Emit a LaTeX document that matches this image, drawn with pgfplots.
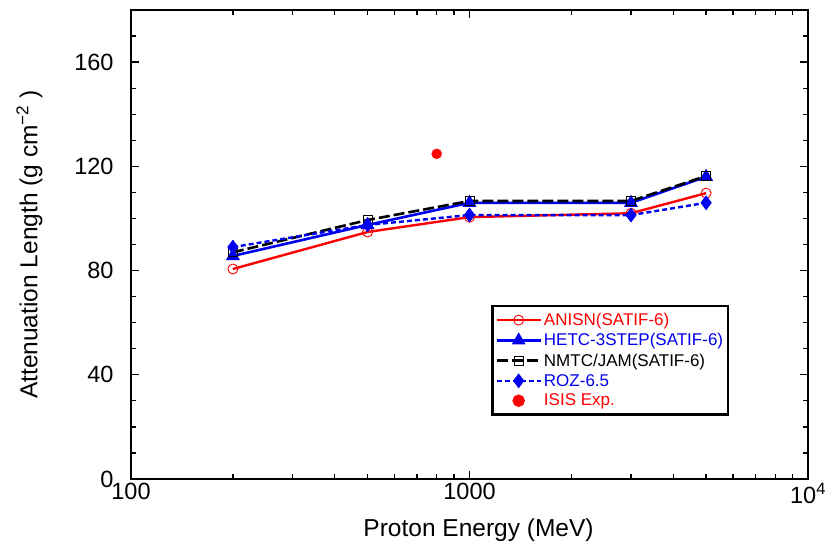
\documentclass[border=0pt]{standalone}
\usepackage{fontspec}
\setmainfont{Liberation Sans}
\usepackage{pgfplots}
\pgfplotsset{compat=1.18}
\definecolor{cred}{RGB}{255,0,0}
\definecolor{cblue}{RGB}{0,0,240}
\pgfplotsset{
  linemarkleg/.style={legend image code/.code={\draw[##1] (0pt,0pt) -- (44pt,0pt); \path[##1,solid] plot coordinates {(22pt,0pt)};}},
  onlymarkleg/.style={legend image code/.code={\path[##1] plot coordinates {(22pt,0pt)};}},
}
\begin{document}
\begin{tikzpicture}
\begin{axis}[
  xmode=log,
  scale only axis,
  width=677pt, height=469pt,
  xmin=100, xmax=10000, ymin=0, ymax=180,
  xtick={100,1000,10000},
  xticklabels={100,1000,10\textsuperscript{4}},
  minor xtick={200,300,400,500,600,700,800,900,2000,3000,4000,5000,6000,7000,8000,9000},
  ytick={0,40,80,120,160},
  minor ytick={10,20,30,50,60,70,90,100,110,130,140,150,170},
  tick align=inside,
  tick pos=both,
  major tick length=8pt, minor tick length=5pt,
  tick style={black, line width=1.3pt},
  axis line style={line width=1.8pt},
  /pgf/number format/assume math mode=true,
  tick label style={font=\fontsize{23.5}{27}\selectfont},
  xticklabel style={yshift=-1pt},
  yticklabel style={xshift=-14pt},
  xlabel={Proton Energy (MeV)},
  ylabel={Attenuation Length (g cm\textsuperscript{−2} )},
  label style={font=\fontsize{24.5}{28}\selectfont},
  xlabel style={yshift=-8pt, xshift=9pt},
  ylabel style={yshift=25pt},
  legend style={at={(0.532,0.371)}, anchor=north west, draw=black, line width=2.4pt,
    font=\fontsize{17}{19}\selectfont, inner xsep=3pt, inner ysep=5pt, row sep=2.5pt},
  legend cell align=left,
]
\pgfplotsinvokeforeach{200,300,400,500,600,700,800,900,2000,3000,4000,5000,6000,7000,8000,9000}{
  \draw[black, line width=1.3pt] (axis cs:#1,0) -- ++(0pt,5pt);
  \draw[black, line width=1.3pt] (axis cs:#1,180) -- ++(0pt,-5pt);
}
\pgfplotsinvokeforeach{1000}{
  \draw[black, line width=1.3pt] (axis cs:#1,0) -- ++(0pt,8pt);
  \draw[black, line width=1.3pt] (axis cs:#1,180) -- ++(0pt,-8pt);
}
\addplot[cred, line width=2.4pt, mark=o, mark size=5pt, mark options={line width=0.9pt, fill=white}, linemarkleg]
  coordinates {(200,80.6) (500,94.8) (1000,100.5) (3000,102) (5000,109.7)};
\addlegendentry{\textcolor{cred}{ANISN(SATIF-6)}}
\addplot[cblue, line width=2.6pt, mark=triangle*, mark size=5.5pt, linemarkleg]
  coordinates {(200,85.6) (500,97.5) (1000,106) (3000,106) (5000,116)};
\addlegendentry{\textcolor{cblue}{HETC-3STEP(SATIF-6)}}
\addplot[black, line width=2.6pt, dash pattern=on 11pt off 4pt, mark=square, mark size=4.5pt, mark options={solid, line width=1pt}, linemarkleg]
  coordinates {(200,87) (500,99.4) (1000,106.7) (3000,106.7) (5000,116.3)};
\addlegendentry{NMTC/JAM(SATIF-6)}
\addplot[cblue, line width=2.4pt, dash pattern=on 5pt off 3pt, mark=diamond*, mark size=5.5pt, mark options={solid}, linemarkleg]
  coordinates {(200,89) (500,97.5) (1000,101.3) (3000,101.3) (5000,106)};
\addlegendentry{\textcolor{cblue}{ROZ-6.5}}
\addplot[cred, only marks, mark=*, mark size=5pt, onlymarkleg]
  coordinates {(800,124.8)};
\addlegendentry{\textcolor{cred}{ISIS Exp.}}
\end{axis}
\pgfresetboundingbox
\path ([shift={(-131pt,-75pt)}]current axis.south west) rectangle ([shift={(28pt,10pt)}]current axis.north east);
\end{tikzpicture}
\end{document}
